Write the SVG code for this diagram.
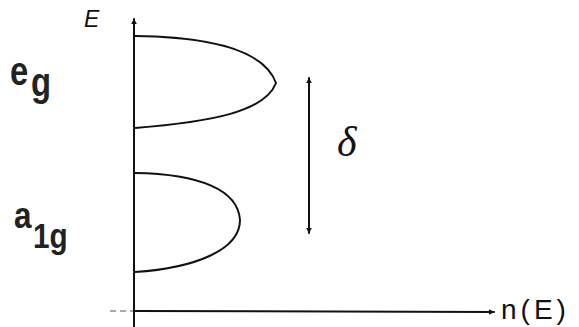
<svg xmlns="http://www.w3.org/2000/svg" width="579" height="327" viewBox="0 0 579 327">
  <style>
    .ln { fill: none; stroke: #111; stroke-width: 2; stroke-linecap: round; }
    .lbl { font-family: "Liberation Sans", Arial, sans-serif; font-weight: bold; fill: #222; }
    .hand { font-family: "Liberation Sans", Arial, sans-serif; fill: #111; }
  </style>
  <defs>
    <marker id="arr" viewBox="0 0 10 10" refX="9" refY="5" markerWidth="6" markerHeight="6" orient="auto-start-reverse" markerUnits="userSpaceOnUse">
      <path d="M0,0 L10,5 L0,10 z" fill="#111"/>
    </marker>
  </defs>
  <rect width="579" height="327" fill="#fff"/>
  <g id="connectors">
    <line class="ln" x1="134" y1="327" x2="134" y2="19" marker-end="url(#arr)"/>
    <line class="ln" x1="134" y1="311" x2="494" y2="312" marker-end="url(#arr)"/>
    <line x1="110" y1="311" x2="133" y2="311" stroke="#555" stroke-width="1.2" stroke-dasharray="6,4"/>
    <line class="ln" x1="309" y1="78" x2="309" y2="233" marker-start="url(#arr)" marker-end="url(#arr)"/>
  </g>
  <g id="band-eg">
    <path class="ln" d="M135,36 C215,37 265,52 276,83 C265,112 210,122 135,128"/>
  </g>
  <g id="band-a1g">
    <path class="ln" d="M135,173 C200,174 238,190 240,220 C240,250 195,268 135,272"/>
  </g>
  <g id="label-eg">
    <text class="lbl" transform="translate(10,85) scale(0.82,1)" font-size="40">e</text>
    <text class="lbl" transform="translate(31,96) scale(0.82,1)" font-size="40">g</text>
  </g>
  <g id="label-a1g">
    <text class="lbl" transform="translate(14,228) scale(0.85,1)" font-size="37">a</text>
    <text class="lbl" transform="translate(33,248) scale(0.85,1)" font-size="35">1g</text>
  </g>
  <g id="axis-labels">
    <text class="hand" x="84" y="27" font-size="23" font-style="italic">E</text>
    <text class="hand" x="501" y="319" font-size="28" letter-spacing="4">n(E)</text>
    <text x="337" y="156" font-family="Liberation Serif, serif" font-style="italic" font-size="42" fill="#111">δ</text>
  </g>
</svg>
